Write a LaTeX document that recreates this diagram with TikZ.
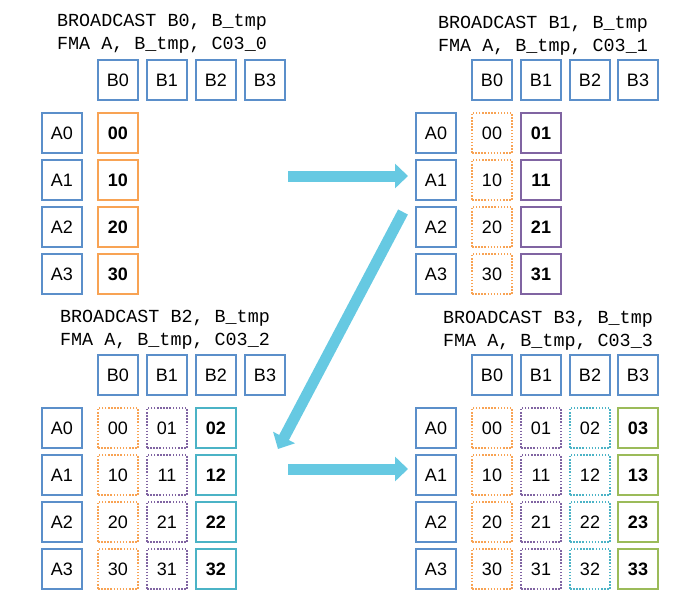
\documentclass[tikz,border=0pt]{standalone}
\usepackage{fontspec}
\setmainfont{Liberation Sans}
\newfontfamily\codefont{Liberation Mono}
\usetikzlibrary{arrows.meta}

\definecolor{boxblue}{HTML}{5B8FCA}
\definecolor{orng}{HTML}{F8A354}
\definecolor{purp}{HTML}{8064A2}
\definecolor{aqua}{HTML}{4BB3C6}
\definecolor{grn}{HTML}{9BBB59}
\definecolor{arrowcyan}{HTML}{66C9E2}

\begin{document}
\begin{tikzpicture}[x=1pt, y=-1pt,
    box/.style={draw=boxblue, line width=1.5pt, rectangle, minimum size=40pt, inner sep=0pt, font=\fontsize{18}{20}\selectfont},
    res/.style={box, font=\fontsize{18}{20}\selectfont\bfseries},
    prev/.style={box, dash pattern=on 1.5pt off 1.6pt},
    code/.style={align=left, font=\codefont\fontsize{18.4}{23}\selectfont},
    move/.style={-{Triangle[width=24pt,length=13pt]}, line width=11pt, draw=arrowcyan}]
    \useasboundingbox (0,0) rectangle (691,610);

    % Step 0 (top left)
    \node[code] (p1txt) at (162,34) {BROADCAST B0, B\_tmp\\FMA A, B\_tmp, C03\_0};
    \node[box] (p1b0) at (118,80) {B0};
    \node[box] (p1b1) at (167,80) {B1};
    \node[box] (p1b2) at (216,80) {B2};
    \node[box] (p1b3) at (265,80) {B3};
    \node[box] (p1a0) at (62,133) {A0};
    \node[box] (p1a1) at (62,180) {A1};
    \node[box] (p1a2) at (62,227) {A2};
    \node[box] (p1a3) at (62,274) {A3};
    \node[res, draw=orng] (p1c00) at (118,133) {00};
    \node[res, draw=orng] (p1c10) at (118,180) {10};
    \node[res, draw=orng] (p1c20) at (118,227) {20};
    \node[res, draw=orng] (p1c30) at (118,274) {30};

    % Step 1 (top right)
    \node[code] (p2txt) at (543,36) {BROADCAST B1, B\_tmp\\FMA A, B\_tmp, C03\_1};
    \node[box] (p2b0) at (492,80) {B0};
    \node[box] (p2b1) at (541,80) {B1};
    \node[box] (p2b2) at (590,80) {B2};
    \node[box] (p2b3) at (638,80) {B3};
    \node[box] (p2a0) at (436,133) {A0};
    \node[box] (p2a1) at (436,180) {A1};
    \node[box] (p2a2) at (436,227) {A2};
    \node[box] (p2a3) at (436,274) {A3};
    \node[prev, draw=orng] (p2c00) at (492,133) {00};
    \node[prev, draw=orng] (p2c10) at (492,180) {10};
    \node[prev, draw=orng] (p2c20) at (492,227) {20};
    \node[prev, draw=orng] (p2c30) at (492,274) {30};
    \node[res, draw=purp] (p2c01) at (541,133) {01};
    \node[res, draw=purp] (p2c11) at (541,180) {11};
    \node[res, draw=purp] (p2c21) at (541,227) {21};
    \node[res, draw=purp] (p2c31) at (541,274) {31};

    % Step 2 (bottom left)
    \node[code] (p3txt) at (165,330) {BROADCAST B2, B\_tmp\\FMA A, B\_tmp, C03\_2};
    \node[box] (p3b0) at (118,375) {B0};
    \node[box] (p3b1) at (167,375) {B1};
    \node[box] (p3b2) at (216,375) {B2};
    \node[box] (p3b3) at (265,375) {B3};
    \node[box] (p3a0) at (62,428) {A0};
    \node[box] (p3a1) at (62,475) {A1};
    \node[box] (p3a2) at (62,522) {A2};
    \node[box] (p3a3) at (62,569) {A3};
    \node[prev, draw=orng] (p3c00) at (118,428) {00};
    \node[prev, draw=orng] (p3c10) at (118,475) {10};
    \node[prev, draw=orng] (p3c20) at (118,522) {20};
    \node[prev, draw=orng] (p3c30) at (118,569) {30};
    \node[prev, draw=purp] (p3c01) at (167,428) {01};
    \node[prev, draw=purp] (p3c11) at (167,475) {11};
    \node[prev, draw=purp] (p3c21) at (167,522) {21};
    \node[prev, draw=purp] (p3c31) at (167,569) {31};
    \node[res, draw=aqua] (p3c02) at (216,428) {02};
    \node[res, draw=aqua] (p3c12) at (216,475) {12};
    \node[res, draw=aqua] (p3c22) at (216,522) {22};
    \node[res, draw=aqua] (p3c32) at (216,569) {32};

    % Step 3 (bottom right)
    \node[code] (p4txt) at (548,331) {BROADCAST B3, B\_tmp\\FMA A, B\_tmp, C03\_3};
    \node[box] (p4b0) at (492,375) {B0};
    \node[box] (p4b1) at (541,375) {B1};
    \node[box] (p4b2) at (590,375) {B2};
    \node[box] (p4b3) at (638,375) {B3};
    \node[box] (p4a0) at (436,428) {A0};
    \node[box] (p4a1) at (436,475) {A1};
    \node[box] (p4a2) at (436,522) {A2};
    \node[box] (p4a3) at (436,569) {A3};
    \node[prev, draw=orng] (p4c00) at (492,428) {00};
    \node[prev, draw=orng] (p4c10) at (492,475) {10};
    \node[prev, draw=orng] (p4c20) at (492,522) {20};
    \node[prev, draw=orng] (p4c30) at (492,569) {30};
    \node[prev, draw=purp] (p4c01) at (541,428) {01};
    \node[prev, draw=purp] (p4c11) at (541,475) {11};
    \node[prev, draw=purp] (p4c21) at (541,522) {21};
    \node[prev, draw=purp] (p4c31) at (541,569) {31};
    \node[prev, draw=aqua] (p4c02) at (590,428) {02};
    \node[prev, draw=aqua] (p4c12) at (590,475) {12};
    \node[prev, draw=aqua] (p4c22) at (590,522) {22};
    \node[prev, draw=aqua] (p4c32) at (590,569) {32};
    \node[res, draw=grn] (p4c03) at (638,428) {03};
    \node[res, draw=grn] (p4c13) at (638,475) {13};
    \node[res, draw=grn] (p4c23) at (638,522) {23};
    \node[res, draw=grn] (p4c33) at (638,569) {33};

    % Step arrows
    \coordinate (go1) at (288,176);
    \coordinate (to1) at (408,176);
    \coordinate (go2) at (403,212);
    \coordinate (to2) at (278,449);
    \coordinate (go3) at (288,469);
    \coordinate (to3) at (408,469);
    \draw[move] (go1) -- (to1);
    \draw[move] (go2) -- (to2);
    \draw[move] (go3) -- (to3);

\end{tikzpicture}
\end{document}
